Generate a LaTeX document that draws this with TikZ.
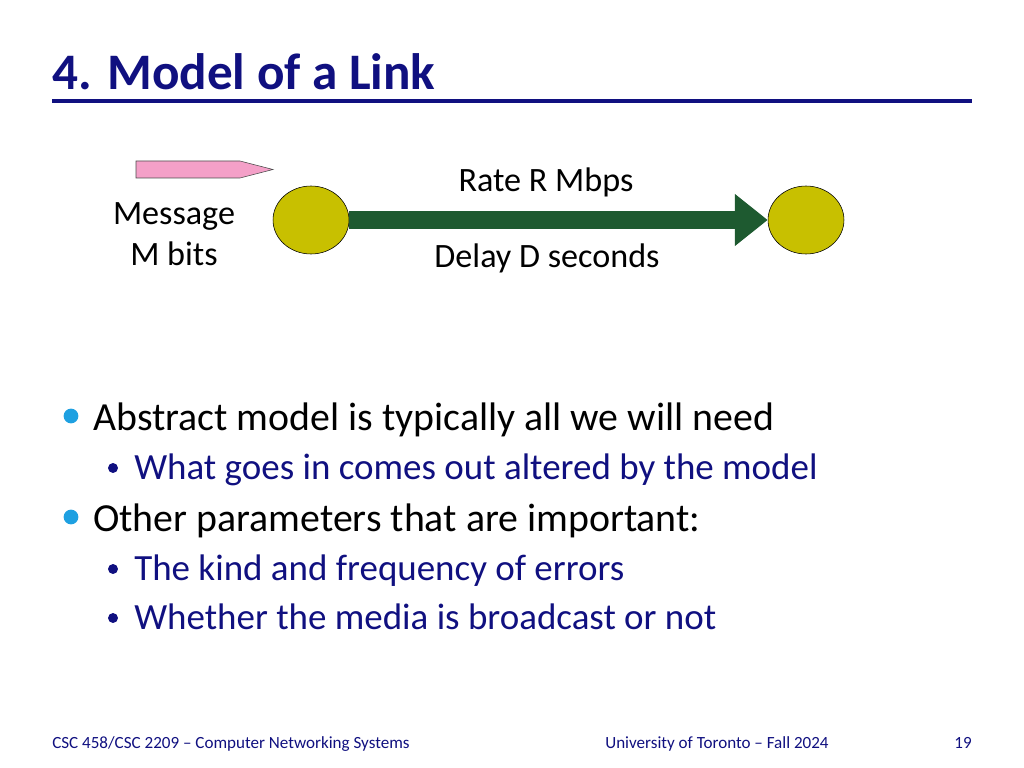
\documentclass[tikz,border=0pt]{standalone}
\usepackage{fontspec}
\setmainfont{Carlito}
\usetikzlibrary{arrows.meta, shapes.geometric}
\definecolor{navy}{RGB}{16,16,128}
\definecolor{linkgreen}{RGB}{30,90,48}
\definecolor{nodeolive}{RGB}{200,192,0}
\definecolor{msgpink}{RGB}{244,160,200}
\definecolor{dotblue}{RGB}{30,160,225}
\tikzset{
  host/.style={ellipse, draw=black, fill=nodeolive, minimum width=53.4pt, minimum height=47.8pt, inner sep=0pt},
  lbl/.style={anchor=base, font=\fontsize{24}{28}\selectfont},
  lvlone/.style={anchor=base west, inner sep=0pt, font=\fontsize{28}{32}\selectfont},
  lvltwo/.style={anchor=base west, inner sep=0pt, text=navy, font=\fontsize{26}{30}\selectfont},
  foot/.style={anchor=base, inner sep=0pt, text=navy, font=\fontsize{12}{14}\selectfont}
}
\begin{document}
\begin{tikzpicture}[x=0.703125pt, y=-0.703125pt]
	\useasboundingbox (0,0) rectangle (1024,768);
	% title and rule
	\node[anchor=base west, inner sep=0pt, text=navy, font=\fontsize{36}{40}\selectfont\bfseries] (title) at (52,90) {4. Model of a Link};
	\coordinate (ruleL) at (52,101);
	\coordinate (ruleR) at (972,101);
	\draw[navy, line width=2.2pt] (ruleL) -- (ruleR);

	% the message
	\draw[fill=msgpink, draw=black!70, line width=0.4pt] (136,161) -- (240,161) -- (273,169.5) -- (240,178) -- (136,178) -- cycle;
	\node[lbl] (msg) at (174,225) {Message};
	\node[lbl] (bits) at (174,266) {M bits};

	% the link
	\node[host] (src) at (311,220) {};
	\node[host] (dst) at (806,220) {};
	\draw[linkgreen, line width=12.7pt, -{Triangle[length=23.2pt, width=35.2pt]}] (src.east) -- (dst.west);
	\node[lbl] (rate) at (546,192) {Rate R Mbps};
	\node[lbl] (delay) at (547,268) {Delay D seconds};

	% bullets
	\fill[dotblue] (71,416) circle (5.2pt);
	\node[lvlone] (b1) at (93,430) {Abstract model is typically all we will need};
	\fill[navy] (113,468) circle (3.5pt);
	\node[lvltwo] (b1a) at (134,479) {What goes in comes out altered by the model};
	\fill[dotblue] (71,517) circle (5.2pt);
	\node[lvlone] (b2) at (93,531) {Other parameters that are important:};
	\fill[navy] (113,569) circle (3.5pt);
	\node[lvltwo] (b2a) at (134,580) {The kind and frequency of errors};
	\fill[navy] (113,618) circle (3.5pt);
	\node[lvltwo] (b2b) at (134,629) {Whether the media is broadcast or not};

	% footer
	\node[foot, anchor=base west] (course) at (52,748) {CSC 458/CSC 2209 – Computer Networking Systems};
	\node[foot] (uni) at (717,748) {University of Toronto – Fall 2024};
	\node[foot, anchor=base east] (page) at (972,748) {19};
\end{tikzpicture}
\end{document}
